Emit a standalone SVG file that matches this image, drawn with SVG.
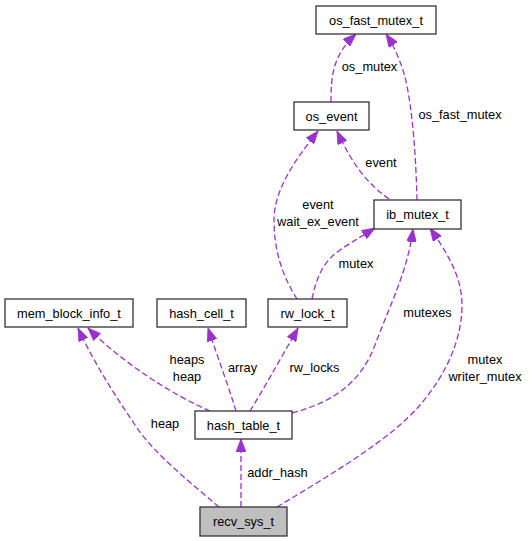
<svg xmlns="http://www.w3.org/2000/svg" width="529" height="541" viewBox="0 0 529 541">
<style>
.box{fill:#ffffff;stroke:#333333;stroke-width:1.3}
.cur{fill:#bfbfbf}
.t{font-family:"Liberation Sans",Arial,sans-serif;font-size:12.8px;fill:#000;text-anchor:middle}
.e{fill:none;stroke:#9a32cd;stroke-width:1.3;stroke-dasharray:6,3}
</style>
<defs>
<marker id="ah" viewBox="0 0 13 10" refX="13" refY="5" markerWidth="13" markerHeight="10" markerUnits="userSpaceOnUse" orient="auto">
<path d="M0,0 L13,5 L0,10 z" fill="#9a32cd" stroke="#9a32cd" stroke-width="0.8"/>
</marker>
</defs>
<rect width="529" height="541" fill="#ffffff"/>
<g id="connectors">
<path class="e" marker-end="url(#ah)" d="M241,507 L241,439"/>
<path class="e" marker-end="url(#ah)" d="M210,411 C175,396 125,365 88,328"/>
<path class="e" marker-end="url(#ah)" d="M219,507 C190,482 155,455 135,425 C115,395 95,365 78,328"/>
<path class="e" marker-end="url(#ah)" d="M236,411 C228,385 218,358 208,328"/>
<path class="e" marker-end="url(#ah)" d="M250,411 C260,395 280,360 298,328"/>
<path class="e" marker-end="url(#ah)" d="M292,413 C330,403 360,385 375,345 C390,305 408,270 413,229"/>
<path class="e" marker-end="url(#ah)" d="M277,507 C330,475 390,440 420,405 C450,370 462,335 462,305 C462,275 445,250 430,228"/>
<path class="e" marker-end="url(#ah)" d="M312,299 C316,280 322,262 340,250 C352,242 362,236 375,228"/>
<path class="e" marker-end="url(#ah)" d="M297,299 C285,280 274,255 274,220 C274,190 295,160 318,131"/>
<path class="e" marker-end="url(#ah)" d="M389,199 C370,185 355,170 337,131"/>
<path class="e" marker-end="url(#ah)" d="M417,200 C416,160 413,110 405,77 C401,62 394,46 386,34"/>
<path class="e" marker-end="url(#ah)" d="M331,102 C331,75 333,55 356,34"/>
<text class="t" x="277.5" y="477">addr_hash</text>
<text class="t" x="187" y="364">heaps</text>
<text class="t" x="187" y="381">heap</text>
<text class="t" x="165" y="428">heap</text>
<text class="t" x="242.5" y="372">array</text>
<text class="t" x="314.5" y="372">rw_locks</text>
<text class="t" x="427.5" y="317">mutexes</text>
<text class="t" x="485" y="364">mutex</text>
<text class="t" x="485" y="381">writer_mutex</text>
<text class="t" x="356" y="268">mutex</text>
<text class="t" x="318" y="208.5">event</text>
<text class="t" x="318" y="225.5">wait_ex_event</text>
<text class="t" x="381" y="167">event</text>
<text class="t" x="460" y="119">os_fast_mutex</text>
<text class="t" x="369.5" y="71">os_mutex</text>
</g>
<g id="recv_sys_t"><rect class="box cur" x="200" y="507" width="87" height="29"/><text class="t" x="243.5" y="526">recv_sys_t</text></g>
<g id="hash_table_t"><rect class="box" x="195" y="411" width="97" height="28"/><text class="t" x="243.5" y="429.5">hash_table_t</text></g>
<g id="mem_block_info_t"><rect class="box" x="5" y="299" width="128" height="28"/><text class="t" x="69" y="317.5">mem_block_info_t</text></g>
<g id="hash_cell_t"><rect class="box" x="157" y="299" width="89" height="28"/><text class="t" x="201.5" y="317.5">hash_cell_t</text></g>
<g id="rw_lock_t"><rect class="box" x="268" y="299" width="79" height="28"/><text class="t" x="307.5" y="317.5">rw_lock_t</text></g>
<g id="ib_mutex_t"><rect class="box" x="374" y="200" width="87" height="29"/><text class="t" x="417.5" y="219">ib_mutex_t</text></g>
<g id="os_event"><rect class="box" x="294" y="102" width="75" height="28"/><text class="t" x="331.5" y="120.5">os_event</text></g>
<g id="os_fast_mutex_t"><rect class="box" x="316" y="6" width="120" height="28"/><text class="t" x="376" y="24.5">os_fast_mutex_t</text></g>
</svg>
